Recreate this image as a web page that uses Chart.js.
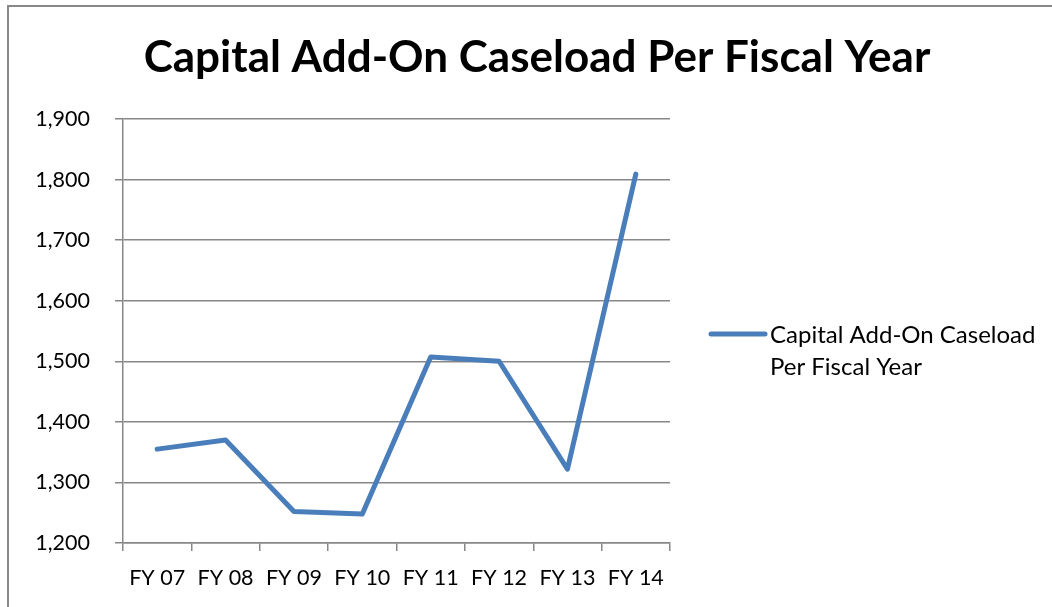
<!DOCTYPE html>
<html>
<head>
<meta charset="utf-8">
<script src="https://cdn.jsdelivr.net/npm/chart.js@4.4.0/dist/chart.umd.min.js"></script>
<style>
  html, body { margin: 0; padding: 0; background: #fff; overflow: hidden; }
  #frame { position: absolute; left: 7px; top: 5px; width: 1060px; height: 620px;
           border-left: 2px solid #888; border-top: 2px solid #888; }
  #wrap { position: absolute; left: 0; top: 0; width: 1052px; height: 607px; }
</style>
</head>
<body>
<div id="frame"></div>
<div id="wrap"><canvas id="caseloadChart" width="1052" height="607"></canvas></div>
<script>
const FONT = 'Lato, "Open Sans", sans-serif';
const TITLE = 'Capital Add-On Caseload Per Fiscal Year';
const fiscalYears = ['FY 07', 'FY 08', 'FY 09', 'FY 10', 'FY 11', 'FY 12', 'FY 13', 'FY 14'];
const caseload = [1355, 1370, 1252, 1248, 1507, 1500, 1322, 1809];
const legendLines = ['Capital Add-On Caseload', 'Per Fiscal Year'];
const LINE_COLOR = '#4a7ebb';
const GRID_COLOR = '#878787';

// title + legend drawn by hand: title centred on the whole frame, legend label wraps onto two lines
const frameText = {
    id: 'frameText',
    afterDraw(chart) {
        const { ctx, chartArea } = chart;
        ctx.save();
        ctx.fillStyle = '#000';
        ctx.textAlign = 'center';
        ctx.textBaseline = 'middle';
        ctx.font = 'bold 44px ' + FONT;
        ctx.fillText(TITLE, 537, 58);

        const x0 = chartArea.right + 41;
        const firstY = 335;
        const lineGap = 32;
        ctx.strokeStyle = LINE_COLOR;
        ctx.lineWidth = 5;
        ctx.lineCap = 'round';
        ctx.beginPath();
        ctx.moveTo(x0, firstY - 1);
        ctx.lineTo(x0 + 54, firstY - 1);
        ctx.stroke();
        ctx.textAlign = 'left';
        ctx.font = '24px ' + FONT;
        legendLines.forEach((t, i) => ctx.fillText(t, x0 + 59, firstY + i * lineGap));
        ctx.restore();
    }
};

function initChart() {
    const ctx = document.getElementById('caseloadChart').getContext('2d');
    new Chart(ctx, {
        type: 'line',
        data: {
            labels: fiscalYears,
            datasets: [{ label: legendLines.join(' '), data: caseload, borderColor: LINE_COLOR, borderWidth: 5,
                tension: 0, pointRadius: 0, pointHoverRadius: 0, borderCapStyle: 'round', borderJoinStyle: 'round', fill: false }]
        },
        options: {
            responsive: false, animation: false, events: [],
            layout: { padding: { left: 0, right: 382, top: 119, bottom: 0 } },
            plugins: {
                legend: { display: false },
                tooltip: { enabled: false },
                title: { display: false }
            },
            scales: {
                x: {
                    offset: true,
                    grid: { offset: true, display: true, drawOnChartArea: false, color: GRID_COLOR, lineWidth: 1.5, tickLength: 8 },
                    border: { color: GRID_COLOR, width: 1.5 },
                    ticks: { color: '#000', font: { family: FONT, size: 21.5 }, padding: 14, maxRotation: 0 },
                    afterFit(scale) { scale.height = 64; }
                },
                y: {
                    min: 1200, max: 1900,
                    grid: { color: GRID_COLOR, lineWidth: 1.5, tickLength: 8 },
                    border: { color: GRID_COLOR, width: 1.5 },
                    ticks: { stepSize: 100, color: '#000', font: { family: FONT, size: 21.5 }, padding: 25,
                        callback: v => v.toLocaleString('en-US') },
                    afterFit(scale) { scale.width = 123; }
                }
            }
        },
        plugins: [frameText]
    });
}

document.addEventListener('DOMContentLoaded', initChart);
</script>
</body>
</html>
